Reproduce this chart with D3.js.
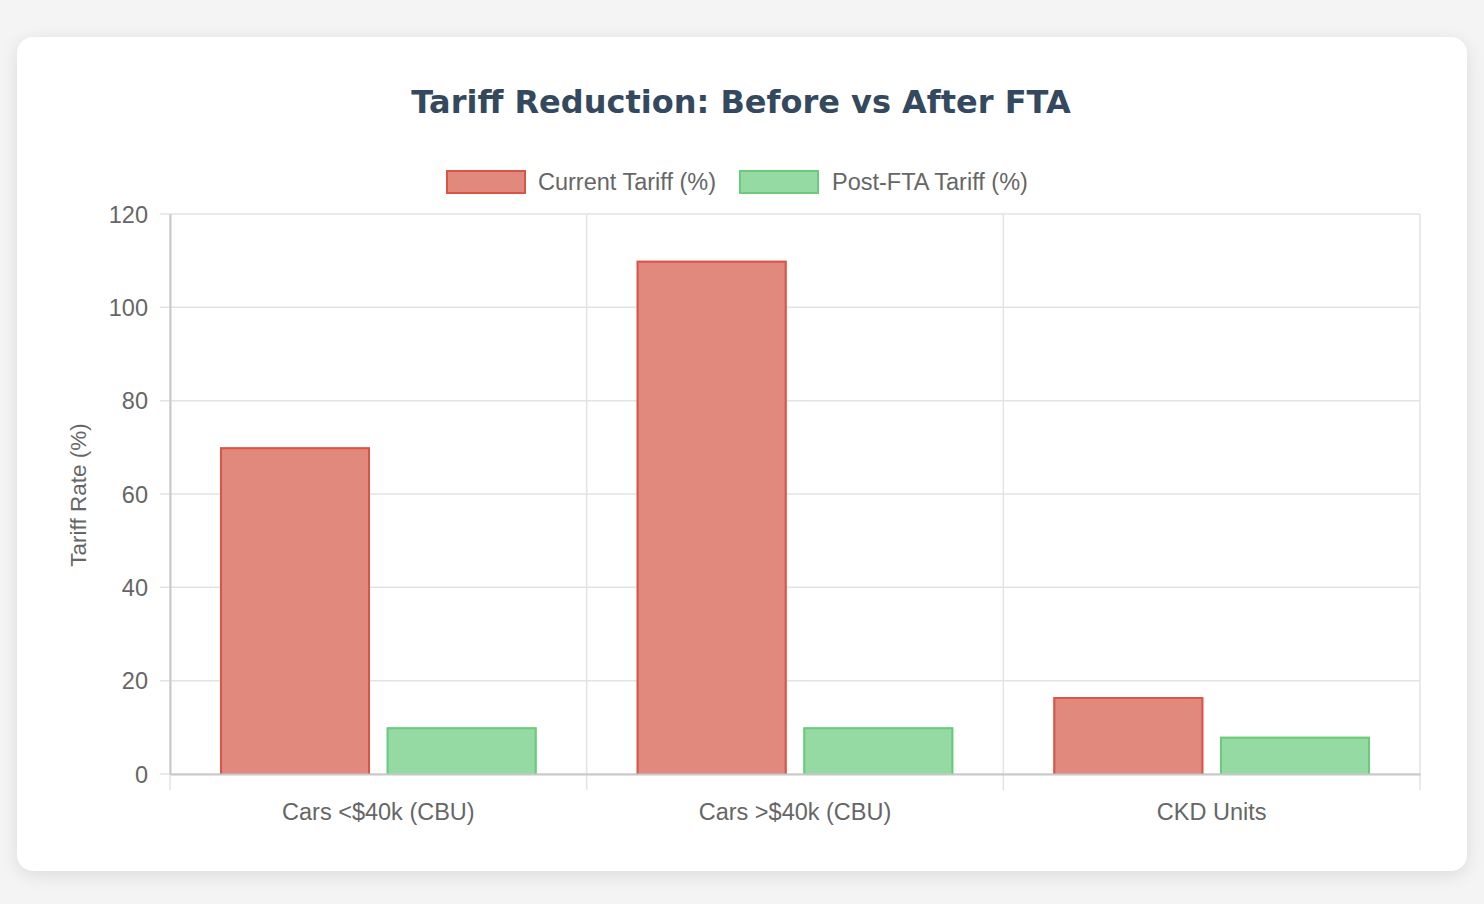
<!DOCTYPE html>
<html>
<head>
<meta charset="utf-8">
<script src="https://cdn.jsdelivr.net/npm/d3@7"></script>
<style>
  html, body { margin: 0; padding: 0; background: #f4f4f4; }
  body { width: 1484px; height: 904px; position: relative; overflow: hidden; }
  .card {
    position: absolute; left: 17px; top: 37px; width: 1450px; height: 834px;
    background: #fff; border-radius: 16px;
    box-shadow: 0 4px 18px rgba(0,0,0,0.10);
  }
  svg { position: absolute; left: 0; top: 0; }
</style>
</head>
<body>
<div class="card"></div>
<svg id="chart" width="1484" height="904"></svg>
<script>
// chart values
var categories = ["Cars <$40k (CBU)", "Cars >$40k (CBU)", "CKD Units"];
var currentTariff = [70, 110, 16.5];
var postFtaTariff = [10, 10, 8];
var seriesNames = ["Current Tariff (%)", "Post-FTA Tariff (%)"];
var yTicks = [0, 20, 40, 60, 80, 100, 120];

var fills = ["#e1897c", "#95daa2"];
var strokes = ["#d9554a", "#6bcb7c"];

var svg = d3.select("#chart");
var sansFont = "'Liberation Sans', Arial, Helvetica, sans-serif";

// plot area
var plotLeft = 170, plotRight = 1420, plotTop = 214, plotBottom = 774;

var x = d3.scaleBand()
  .domain(categories)
  .range([plotLeft, plotRight])
  .paddingInner(0)
  .paddingOuter(0);

// bars take 80% of each category, 90% of each sub slot
var x1 = d3.scaleBand()
  .domain(d3.range(seriesNames.length))
  .range([0, x.bandwidth() * 0.8]);

var y = d3.scaleLinear()
  .domain([0, 120])
  .range([plotBottom, plotTop]);

// Title
svg.append("text")
  .attr("x", 741)
  .attr("y", 113)
  .attr("text-anchor", "middle")
  .attr("font-family", "'DejaVu Sans', Verdana, sans-serif")
  .attr("font-weight", "bold")
  .attr("font-size", 32)
  .attr("fill", "#34495e")
  .text("Tariff Reduction: Before vs After FTA");

// Legend
var legendItems = [
  { name: seriesNames[0], bx: 446, tx: 538 },
  { name: seriesNames[1], bx: 739, tx: 832 }
];
var legend = svg.append("g").attr("class", "legend");
legendItems.forEach(function(d, i) {
  legend.append("rect")
    .attr("x", d.bx + 1)
    .attr("y", 171)
    .attr("width", 78)
    .attr("height", 22)
    .attr("fill", fills[i])
    .attr("stroke", strokes[i])
    .attr("stroke-width", 2);
  legend.append("text")
    .attr("x", d.tx)
    .attr("y", 190)
    .attr("font-family", sansFont)
    .attr("font-size", 23.5)
    .attr("fill", "#666")
    .text(d.name);
});

// Grid lines
var grid = svg.append("g").attr("class", "grid");
grid.selectAll(".hgrid")
  .data(yTicks)
  .enter()
  .append("line")
  .attr("class", "hgrid")
  .attr("x1", plotLeft - 10)
  .attr("x2", plotRight)
  .attr("y1", function(d) { return y(d); })
  .attr("y2", function(d) { return y(d); })
  .attr("stroke", "#e3e3e3")
  .attr("stroke-width", 1.5);

var boundaries = categories.map(function(c) { return x(c); }).concat([plotRight]);
grid.selectAll(".vgrid")
  .data(boundaries)
  .enter()
  .append("line")
  .attr("class", "vgrid")
  .attr("x1", function(d) { return d; })
  .attr("x2", function(d) { return d; })
  .attr("y1", plotTop)
  .attr("y2", plotBottom + 16)
  .attr("stroke", "#e3e3e3")
  .attr("stroke-width", 1.5);

// Bars
var rows = categories.map(function(c, i) {
  return { cat: c, values: [currentTariff[i], postFtaTariff[i]] };
});

var groups = svg.selectAll(".cat")
  .data(rows)
  .enter()
  .append("g")
  .attr("class", "cat")
  .attr("transform", function(d) {
    return "translate(" + (x(d.cat) + x.bandwidth() * 0.1) + ",0)";
  });

var barW = x1.bandwidth() * 0.9;
groups.selectAll(".bar")
  .data(function(d) { return d.values; })
  .enter()
  .append("rect")
  .attr("class", "bar")
  .attr("x", function(d, i) { return x1(i) + (x1.bandwidth() - barW) / 2; })
  .attr("y", function(d) { return y(d); })
  .attr("width", barW)
  .attr("height", function(d) { return plotBottom - y(d); })
  .attr("fill", function(d, i) { return fills[i]; });

// border on top, left and right (bottom skipped)
groups.selectAll(".bar-border")
  .data(function(d) { return d.values; })
  .enter()
  .append("path")
  .attr("class", "bar-border")
  .attr("fill", "none")
  .attr("stroke", function(d, i) { return strokes[i]; })
  .attr("stroke-width", 2)
  .attr("d", function(d, i) {
    var bx = x1(i) + (x1.bandwidth() - barW) / 2 + 1;
    var w = barW - 2;
    var ty = y(d) + 1;
    return "M" + bx + "," + plotBottom + "V" + ty + "H" + (bx + w) + "V" + plotBottom;
  });

// Axes
var yAxis = d3.axisLeft(y).tickValues(yTicks).tickSize(0).tickPadding(22);
var xAxis = d3.axisBottom(x).tickSize(0).tickPadding(29);

var gy = svg.append("g")
  .attr("class", "y axis")
  .attr("transform", "translate(" + plotLeft + ",0)")
  .call(yAxis);

var gx = svg.append("g")
  .attr("class", "x axis")
  .attr("transform", "translate(0," + plotBottom + ")")
  .call(xAxis);

[gx, gy].forEach(function(g) {
  g.select(".domain").attr("stroke", "#c8c8c8").attr("stroke-width", 2);
  g.selectAll("text")
    .attr("font-family", sansFont)
    .attr("font-size", 23.5)
    .attr("fill", "#666");
});
gy.selectAll("text").attr("dy", "0.35em");
gx.selectAll("text").attr("dy", "0.71em");

// Y axis title
svg.append("text")
  .attr("transform", "translate(86,495) rotate(-90)")
  .attr("text-anchor", "middle")
  .attr("font-family", sansFont)
  .attr("font-size", 22.5)
  .attr("fill", "#666")
  .text("Tariff Rate (%)");
</script>
</body>
</html>
